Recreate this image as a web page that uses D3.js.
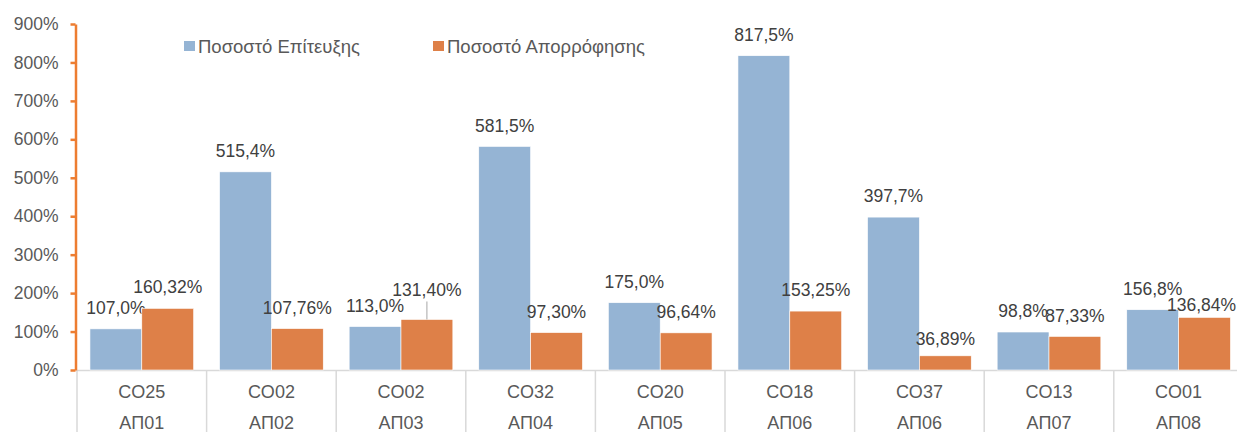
<!DOCTYPE html>
<html>
<head>
<meta charset="utf-8">
<script src="https://cdn.jsdelivr.net/npm/d3@7"></script>
<style>
  body { margin: 0; background: #fff; }
  svg { display: block; font-family: Arial, "Liberation Sans", sans-serif; }
</style>
</head>
<body>
<div id="graphic"></div>
<script>
// Données du graphique
let codes = ["CO25", "CO02", "CO02", "CO32", "CO20", "CO18", "CO37", "CO13", "CO01"];
let axes = ["ΑΠ01", "ΑΠ02", "ΑΠ03", "ΑΠ04", "ΑΠ05", "ΑΠ06", "ΑΠ06", "ΑΠ07", "ΑΠ08"];
let seriesNames = ["Ποσοστό Επίτευξης", "Ποσοστό Απορρόφησης"];
let epiteuxi = [107.0, 515.4, 113.0, 581.5, 175.0, 817.5, 397.7, 98.8, 156.8];
let aporrofisi = [160.32, 107.76, 131.40, 97.30, 96.64, 153.25, 36.89, 87.33, 136.84];
let yTicks = [0, 100, 200, 300, 400, 500, 600, 700, 800, 900];

let largeur = 1237, hauteur = 432;
let couleurs = ["#95b4d4", "#de8048"];

let cadre = d3.select("#graphic")
  .append("svg")
  .attr("width", largeur)
  .attr("height", hauteur);

// Format avec virgule décimale
let loc = d3.formatLocale({decimal: ",", thousands: ".", grouping: [3], currency: ["", "€"]});
let fmt = [loc.format(".1f"), loc.format(".2f")];

// Echelles
let x0 = d3.scaleBand()
  .domain(d3.range(codes.length))
  .range([77, 77 + 129.6 * codes.length]);

let x1 = d3.scaleBand()
  .domain([0, 1])
  .range([0, x0.bandwidth()])
  .paddingOuter(0.25);

let y = d3.scaleLinear()
  .domain([0, 900])
  .range([370, 24]);

// Lignes de l'axe des catégories
cadre.append("line")
  .attr("x1", 77).attr("x2", largeur)
  .attr("y1", 370.5).attr("y2", 370.5)
  .attr("stroke", "#d9d9d9").attr("stroke-width", 1.5);

cadre.selectAll(".sep")
  .data(d3.range(codes.length + 1))
  .enter().append("line")
  .attr("class", "sep")
  .attr("x1", d => x0(0) + d * x0.step())
  .attr("x2", d => x0(0) + d * x0.step())
  .attr("y1", 370).attr("y2", hauteur)
  .attr("stroke", "#d9d9d9").attr("stroke-width", 1.5);

// Barres
let series = [epiteuxi, aporrofisi];
let groupes = cadre.selectAll(".serie")
  .data(series)
  .enter().append("g")
  .attr("class", "serie")
  .attr("fill", (d, s) => couleurs[s]);

groupes.each(function(vals, s) {
  d3.select(this).selectAll("rect")
    .data(vals)
    .enter().append("rect")
    .attr("x", (d, i) => x0(i) + x1(s))
    .attr("width", x1.bandwidth())
    .attr("y", d => y(d))
    .attr("height", d => y(0) - y(d))
    .attr("stroke", "#fff")
    .attr("stroke-width", 0.6);
});

// Décalages manuels des étiquettes (déplacées à la main dans l'original)
let nudge = {"1-2": -9, "1-6": 4, "1-8": 8};
let nudgeX = {"1-8": -3};

groupes.each(function(vals, s) {
  d3.select(this).selectAll("text")
    .data(vals)
    .enter().append("text")
    .attr("x", (d, i) => x0(i) + x1(s) + x1.bandwidth() / 2 + (nudgeX[s + "-" + i] || 0))
    .attr("y", (d, i) => y(d) - 21 + (nudge[s + "-" + i] || 0))
    .attr("dy", "0.35em")
    .attr("text-anchor", "middle")
    .attr("fill", "#404040")
    .style("font-size", "17.5px")
    .text(d => fmt[s](d) + "%");
});

// Ligne de rappel pour 131,40%
cadre.append("line")
  .attr("x1", x0(2) + x1(1) + x1.bandwidth() / 2)
  .attr("x2", x0(2) + x1(1) + x1.bandwidth() / 2)
  .attr("y1", y(aporrofisi[2]) - 18)
  .attr("y2", y(aporrofisi[2]))
  .attr("stroke", "#a6a6a6").attr("stroke-width", 1);

// Etiquettes des catégories (deux niveaux)
cadre.selectAll(".code")
  .data(codes)
  .enter().append("text")
  .attr("class", "code")
  .attr("x", (d, i) => x0(i) + x0.bandwidth() / 2)
  .attr("y", 392)
  .attr("dy", "0.35em")
  .attr("text-anchor", "middle")
  .attr("fill", "#595959")
  .style("font-size", "18px")
  .text(d => d);

cadre.selectAll(".axe")
  .data(axes)
  .enter().append("text")
  .attr("class", "axe")
  .attr("x", (d, i) => x0(i) + x0.bandwidth() / 2)
  .attr("y", 423)
  .attr("dy", "0.35em")
  .attr("text-anchor", "middle")
  .attr("fill", "#595959")
  .style("font-size", "18px")
  .text(d => d);

// Axe Y
let yAxis = d3.axisLeft(y)
  .tickValues(yTicks)
  .tickSize(5)
  .tickSizeOuter(0)
  .tickPadding(12)
  .tickFormat(d => d + "%");

let gY = cadre.append("g")
  .attr("transform", "translate(75.5,0)")
  .call(yAxis);

gY.select(".domain").attr("stroke", "#ed7d31").attr("stroke-width", 2.5);
gY.selectAll(".tick line").attr("stroke", "#ed7d31").attr("stroke-width", 2.5);
gY.selectAll(".tick text")
  .attr("fill", "#595959")
  .style("font-size", "17.5px")
  .style("font-family", "Arial, 'Liberation Sans', sans-serif");

// Légende
let legende = [{x: 184}, {x: 433}];
let leg = cadre.selectAll(".leg")
  .data(seriesNames)
  .enter().append("g")
  .attr("class", "leg")
  .attr("transform", (d, i) => `translate(${legende[i].x},41)`);

leg.append("rect")
  .attr("width", 11).attr("height", 10)
  .attr("fill", (d, i) => couleurs[i]);

leg.append("text")
  .attr("x", 14)
  .attr("y", 6)
  .attr("dy", "0.35em")
  .attr("fill", "#595959")
  .style("font-size", "18.5px")
  .text(d => d);
</script>
</body>
</html>
